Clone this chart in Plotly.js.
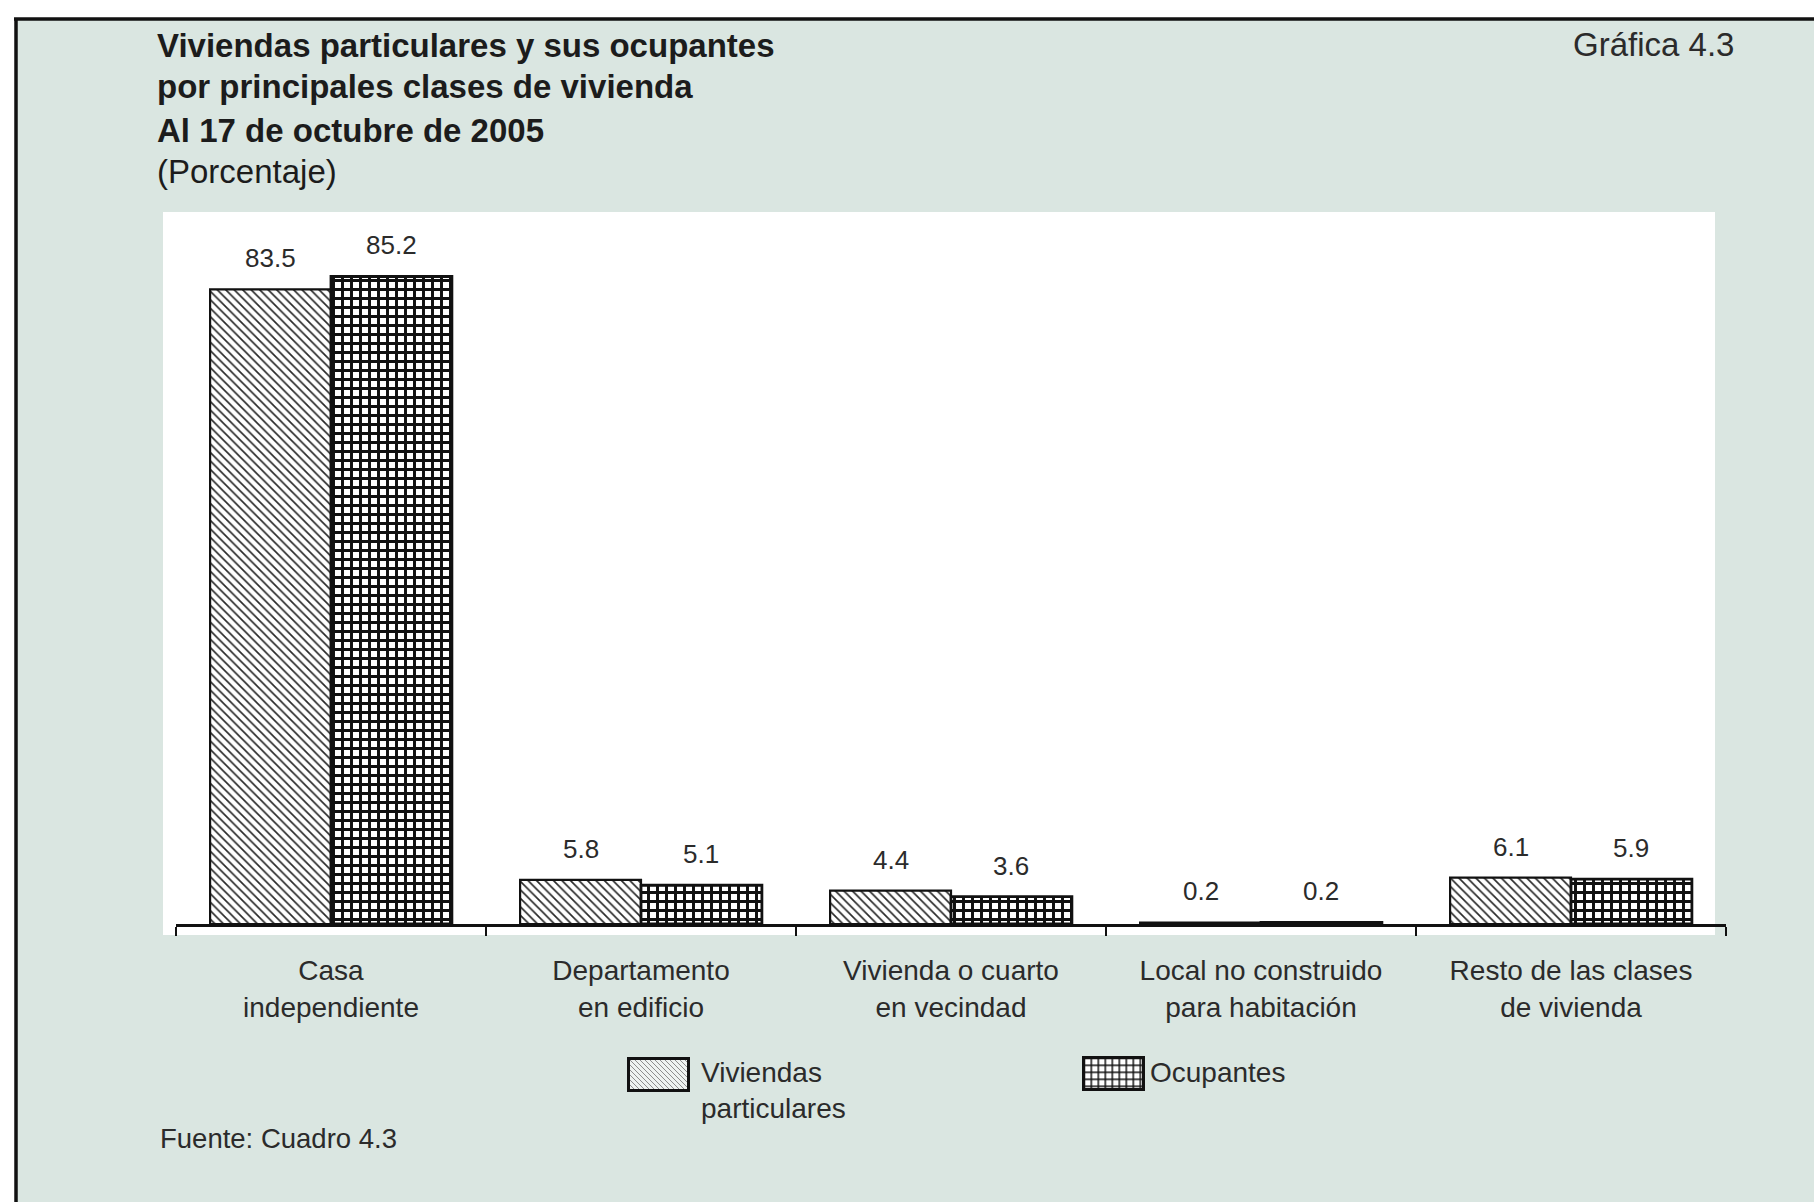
<!DOCTYPE html>
<html>
<head>
<meta charset="utf-8">
<script src="https://cdn.plot.ly/plotly-3.0.1.min.js"></script>
<style>
html,body{margin:0;padding:0;background:#ffffff;}
#chart{width:1814px;height:1202px;}
</style>
</head>
<body>
<div id="chart"></div>
<script>
// ---- data ----
const categories = [
  "Casa<br>independiente",
  "Departamento<br>en edificio",
  "Vivienda o cuarto<br>en vecindad",
  "Local no construido<br>para habitación",
  "Resto de las clases<br>de vivienda"
];
const viviendas = [83.5, 5.8, 4.4, 0.2, 6.1];
const ocupantes = [85.2, 5.1, 3.6, 0.2, 5.9];
const seriesNames = ["Viviendas particulares", "Ocupantes"];
const legendLabels = ["Viviendas<br>particulares", "Ocupantes"];
const titleLines = [
  "Viviendas particulares y sus ocupantes",
  "por principales clases de vivienda",
  "Al 17 de octubre de 2005"
];
const subtitle = "(Porcentaje)";
const chartNumber = "Gráfica 4.3";
const sourceNote = "Fuente: Cuadro 4.3";

// ---- geometry (pixels) ----
const W = 1814, H = 1202, L = 176, R = 88, T = 240, B = 278;
const plotW = W - L - R, plotH = H - T - B;
const px = v => (v - L) / plotW;
const py = v => (H - B - v) / plotH;
const bargap = 0.22;
const barOff = plotW / categories.length * (1 - bargap) / 4;

const FONT = "Liberation Sans, Arial, Helvetica, sans-serif";
const panelColor = "#dae6e1";
const textColor = "#2b2b2b";

const traces = [
  {
    type: "bar", name: seriesNames[0], x: categories, y: viviendas,
    marker: {
      color: "#ffffff",
      line: {color: "#111111", width: 2.2},
      pattern: {shape: "\\", fgcolor: "#2a2a2a", bgcolor: "#ffffff", size: 6, solidity: 0.28}
    },
    hoverinfo: "skip", showlegend: false
  },
  {
    type: "bar", name: seriesNames[1], x: categories, y: ocupantes,
    marker: {
      color: "#ffffff",
      line: {color: "#111111", width: 2.8},
      pattern: {shape: "+", fgcolor: "#111111", bgcolor: "#ffffff", size: 9, solidity: 0.55}
    },
    hoverinfo: "skip", showlegend: false
  }
];

const annotations = [];
categories.forEach((c, i) => {
  annotations.push({x: c, y: viviendas[i], xref: "x", yref: "y", xshift: -barOff, yshift: 31,
    text: viviendas[i].toFixed(1), showarrow: false, yanchor: "middle",
    font: {family: FONT, size: 26, color: textColor}});
  annotations.push({x: c, y: ocupantes[i], xref: "x", yref: "y", xshift: barOff, yshift: 31,
    text: ocupantes[i].toFixed(1), showarrow: false, yanchor: "middle",
    font: {family: FONT, size: 26, color: textColor}});
});
const titleY = [46, 86, 130];
titleLines.forEach((t, i) => {
  annotations.push({xref: "paper", yref: "paper", x: px(155), y: py(titleY[i]),
    xanchor: "left", yanchor: "middle", showarrow: false, text: "<b>" + t + "</b>",
    font: {family: FONT, size: 33, color: "#1c1c1c"}});
});
annotations.push({xref: "paper", yref: "paper", x: px(155), y: py(171),
  xanchor: "left", yanchor: "middle", showarrow: false, text: subtitle,
  font: {family: FONT, size: 33, color: "#1c1c1c"}});
annotations.push({xref: "paper", yref: "paper", x: px(1736), y: py(45),
  xanchor: "right", yanchor: "middle", showarrow: false, text: chartNumber,
  font: {family: FONT, size: 33, color: textColor}});
annotations.push({xref: "paper", yref: "paper", x: px(158), y: py(1138),
  xanchor: "left", yanchor: "middle", showarrow: false, text: sourceNote,
  font: {family: FONT, size: 27.5, color: textColor}});
annotations.push({xref: "paper", yref: "paper", x: px(699), y: py(1055),
  xanchor: "left", yanchor: "top", align: "left", showarrow: false, text: legendLabels[0],
  font: {family: FONT, size: 28, color: textColor}});
annotations.push({xref: "paper", yref: "paper", x: px(1148), y: py(1055),
  xanchor: "left", yanchor: "top", align: "left", showarrow: false, text: legendLabels[1],
  font: {family: FONT, size: 28, color: textColor}});

// legend swatches as small svg images
const swHatch = '<svg xmlns="http://www.w3.org/2000/svg" width="63" height="35" viewBox="0 0 63 35">' +
  '<defs><pattern id="h" width="5" height="5" patternUnits="userSpaceOnUse">' +
  '<path d="M0,0 L5,5 M-1,4 L1,6 M4,-1 L6,1" stroke="#8c8c8c" stroke-width="1"/></pattern></defs>' +
  '<rect x="1.5" y="1.5" width="60" height="32" fill="#eef2f0"/>' +
  '<rect x="1.5" y="1.5" width="60" height="32" fill="url(#h)" stroke="#111" stroke-width="3"/></svg>';
const swGrid = '<svg xmlns="http://www.w3.org/2000/svg" width="63" height="35" viewBox="0 0 63 35">' +
  '<defs><pattern id="g" x="1.5" y="1.5" width="7" height="7" patternUnits="userSpaceOnUse">' +
  '<path d="M0,0 V7 M0,0 H7" stroke="#111" stroke-width="3"/></pattern></defs>' +
  '<rect x="1.5" y="1.5" width="60" height="32" fill="#ffffff"/>' +
  '<rect x="1.5" y="1.5" width="60" height="32" fill="url(#g)" stroke="#111" stroke-width="3"/></svg>';
const uri = s => "data:image/svg+xml;charset=utf-8," + encodeURIComponent(s);
const images = [
  {source: uri(swHatch), xref: "paper", yref: "paper", x: px(627), y: py(1057),
   sizex: 63 / plotW, sizey: 35 / plotH, xanchor: "left", yanchor: "top", sizing: "stretch", layer: "above"},
  {source: uri(swGrid), xref: "paper", yref: "paper", x: px(1082), y: py(1056),
   sizex: 63 / plotW, sizey: 35 / plotH, xanchor: "left", yanchor: "top", sizing: "stretch", layer: "above"}
];

const shapes = [
  // light panel
  {type: "rect", xref: "paper", yref: "paper", x0: px(16), x1: px(W + 20), y0: py(19), y1: py(H + 20),
   fillcolor: panelColor, line: {width: 0}, layer: "below"},
  // white plotting field
  {type: "rect", xref: "paper", yref: "paper", x0: px(163), x1: px(1715), y0: py(212), y1: py(935),
   fillcolor: "#ffffff", line: {width: 0}, layer: "below"},
  // frame lines
  {type: "line", xref: "paper", yref: "paper", x0: px(14), x1: px(W + 20), y0: py(19), y1: py(19),
   line: {color: "#111111", width: 3.5}, layer: "below"},
  {type: "line", xref: "paper", yref: "paper", x0: px(16), x1: px(16), y0: py(18), y1: py(H + 20),
   line: {color: "#111111", width: 3.5}, layer: "below"}
];

const layout = {
  width: W, height: H, autosize: false,
  margin: {l: L, r: R, t: T, b: B, pad: 0},
  paper_bgcolor: "#ffffff",
  plot_bgcolor: "rgba(0,0,0,0)",
  barmode: "group", bargap: bargap, bargroupgap: 0,
  showlegend: false,
  font: {family: FONT, color: textColor},
  xaxis: {
    type: "category",
    showline: true, linecolor: "#111111", linewidth: 2.5,
    ticks: "outside", tickson: "boundaries", ticklen: 9, tickwidth: 2.5, tickcolor: "#111111",
    ticklabelstandoff: 20,
    tickangle: 0,
    tickfont: {family: FONT, size: 28, color: textColor},
    showgrid: false, zeroline: false, fixedrange: true
  },
  yaxis: {range: [0, 90], visible: false, fixedrange: true},
  annotations: annotations,
  shapes: shapes,
  images: images
};

Plotly.newPlot("chart", traces, layout, {displayModeBar: false, staticPlot: true});
</script>
</body>
</html>
